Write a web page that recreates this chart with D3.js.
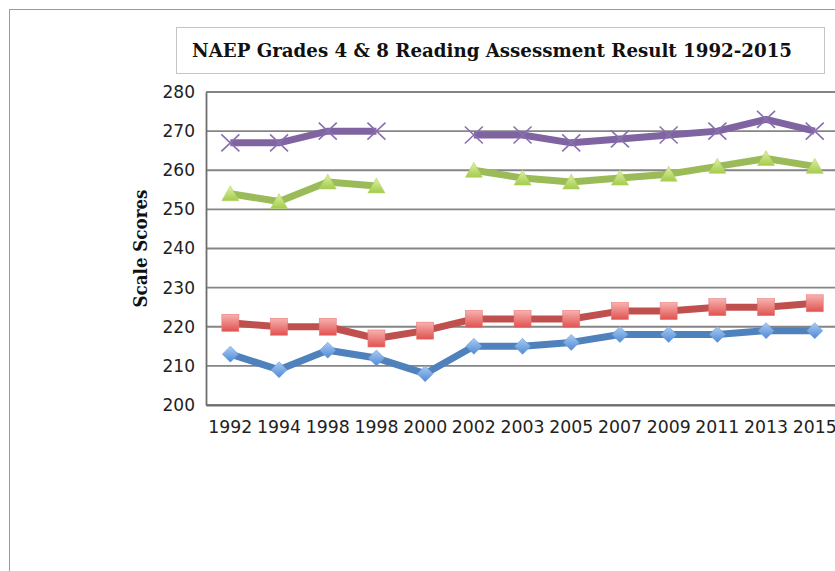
<!DOCTYPE html>
<html>
<head>
<meta charset="utf-8">
<script src="https://cdn.jsdelivr.net/npm/d3@7"></script>
<style>
  body { margin: 0; background: #fff; }
  svg { display: block; }
</style>
</head>
<body>
<div id="chart"></div>
<script>
const width = 835;
const height = 571;

// Category labels (1998 appears twice in the source chart)
const years = ["1992", "1994", "1998", "1998", "2000", "2002", "2003", "2005", "2007", "2009", "2011", "2013", "2015"];
const yTicks = [200, 210, 220, 230, 240, 250, 260, 270, 280];

// Series values (null = no data)
const purpleValues = [267, 267, 270, 270, null, 269, 269, 267, 268, 269, 270, 273, 270];
const greenValues = [254, 252, 257, 256, null, 260, 258, 257, 258, 259, 261, 263, 261];
const redValues = [221, 220, 220, 217, 219, 222, 222, 222, 224, 224, 225, 225, 226];
const blueValues = [213, 209, 214, 212, 208, 215, 215, 216, 218, 218, 218, 219, 219];

const plot = { left: 206, top: 92, bottom: 405, band: 48.7 };

const svg = d3.select("#chart")
  .append("svg")
  .attr("width", width)
  .attr("height", height);

// Gradients for markers
const defs = svg.append("defs");
function gradient(id, top, bottom) {
  const g = defs.append("linearGradient")
    .attr("id", id).attr("x1", 0).attr("y1", 0).attr("x2", 0).attr("y2", 1);
  g.append("stop").attr("offset", "0%").attr("stop-color", top);
  g.append("stop").attr("offset", "100%").attr("stop-color", bottom);
}
gradient("gBlue", "#A9CBF2", "#4F8AD6");
gradient("gRed", "#F8B2B0", "#E0524F");
gradient("gGreen", "#E0F0A8", "#A3CC4A");

// Outer chart frame
svg.append("rect")
  .attr("x", 9.5).attr("y", 9.5)
  .attr("width", 900).attr("height", 700)
  .attr("fill", "none")
  .attr("stroke", "#9a9a9a")
  .attr("stroke-width", 1);

// Title box
svg.append("rect")
  .attr("x", 176.5).attr("y", 27.5)
  .attr("width", 648).attr("height", 46)
  .attr("fill", "#fff")
  .attr("stroke", "#c4c4c4")
  .attr("stroke-width", 1);

svg.append("text")
  .attr("x", 192)
  .attr("y", 57)
  .attr("textLength", 600)
  .attr("lengthAdjust", "spacingAndGlyphs")
  .style("font-family", "'DejaVu Serif', serif")
  .style("font-weight", "bold")
  .style("font-size", "18px")
  .style("fill", "#111")
  .text("NAEP Grades 4 & 8 Reading Assessment Result 1992-2015");

// Scales
const x = d3.scaleBand()
  .domain(d3.range(years.length))
  .range([plot.left, plot.left + plot.band * years.length])
  .padding(0);

const y = d3.scaleLinear()
  .domain([200, 280])
  .range([plot.bottom, plot.top]);

const cx = (i) => x(i) + x.bandwidth() / 2;

// Gridlines
svg.append("g")
  .selectAll("line")
  .data(yTicks)
  .enter()
  .append("line")
  .attr("x1", plot.left)
  .attr("x2", width + 10)
  .attr("y1", (d) => y(d))
  .attr("y2", (d) => y(d))
  .attr("stroke", "#858585")
  .attr("stroke-width", 1.8);

// Y axis
const yAxis = svg.append("g")
  .attr("transform", `translate(${plot.left},0)`)
  .call(d3.axisLeft(y).tickValues(yTicks).tickSize(0).tickPadding(11));
yAxis.select(".domain").attr("stroke", "#6e6e6e").attr("stroke-width", 1.8);
yAxis.selectAll("text")
  .style("font-family", "'DejaVu Sans', sans-serif")
  .style("font-size", "17px")
  .style("fill", "#222");

// X axis
const xAxis = svg.append("g")
  .attr("transform", `translate(0,${plot.bottom})`)
  .call(d3.axisBottom(x).tickFormat((i) => years[i]).tickSize(0).tickPadding(16));
xAxis.select(".domain").attr("stroke", "#6e6e6e").attr("stroke-width", 1.8);
xAxis.selectAll("text")
  .attr("textLength", 44)
  .attr("lengthAdjust", "spacingAndGlyphs")
  .style("font-family", "'DejaVu Sans', sans-serif")
  .style("font-size", "17px")
  .style("fill", "#222");

// Y axis title
svg.append("text")
  .attr("transform", `translate(147,${(plot.top + plot.bottom) / 2}) rotate(-90)`)
  .attr("text-anchor", "middle")
  .attr("textLength", 118)
  .attr("lengthAdjust", "spacingAndGlyphs")
  .style("font-family", "'DejaVu Serif', serif")
  .style("font-weight", "bold")
  .style("font-size", "18px")
  .style("fill", "#111")
  .text("Scale Scores");

// Lines
const line = d3.line()
  .defined((d) => d != null)
  .x((d, i) => cx(i))
  .y((d) => y(d));

const series = [
  { name: "purple", values: purpleValues, color: "#8064A2" },
  { name: "green", values: greenValues, color: "#9BBB59" },
  { name: "red", values: redValues, color: "#C0504D" },
  { name: "blue", values: blueValues, color: "#4F81BD" },
];

series.forEach((s) => {
  svg.append("path")
    .datum(s.values)
    .attr("fill", "none")
    .attr("stroke", s.color)
    .attr("stroke-width", 7)
    .attr("stroke-linejoin", "round")
    .attr("d", line);
});

// Markers
const pts = (values) => values.map((v, i) => ({ v, i })).filter((d) => d.v != null);

// blue diamonds
svg.append("g").selectAll("path")
  .data(pts(blueValues))
  .enter()
  .append("path")
  .attr("d", "M0,-8L8,0L0,8L-8,0Z")
  .attr("transform", (d) => `translate(${cx(d.i)},${y(d.v)})`)
  .attr("fill", "url(#gBlue)")
  .attr("stroke", "#6d9ad6")
  .attr("stroke-width", 0.6);

// red squares
svg.append("g").selectAll("rect")
  .data(pts(redValues))
  .enter()
  .append("rect")
  .attr("x", (d) => cx(d.i) - 8.5)
  .attr("y", (d) => y(d.v) - 8.5)
  .attr("width", 17)
  .attr("height", 17)
  .attr("fill", "url(#gRed)")
  .attr("stroke", "#e97a78")
  .attr("stroke-width", 0.6);

// green triangles
svg.append("g").selectAll("path")
  .data(pts(greenValues))
  .enter()
  .append("path")
  .attr("d", "M0,-8L8.5,7L-8.5,7Z")
  .attr("transform", (d) => `translate(${cx(d.i)},${y(d.v)})`)
  .attr("fill", "url(#gGreen)")
  .attr("stroke", "#b3d46a")
  .attr("stroke-width", 0.6);

// purple crosses
svg.append("g").selectAll("path")
  .data(pts(purpleValues))
  .enter()
  .append("path")
  .attr("d", "M-9,-8.5L9,8.5M-9,8.5L9,-8.5")
  .attr("transform", (d) => `translate(${cx(d.i)},${y(d.v)})`)
  .attr("fill", "none")
  .attr("stroke", "#8a6fb0")
  .attr("stroke-width", 1.6);
</script>
</body>
</html>
